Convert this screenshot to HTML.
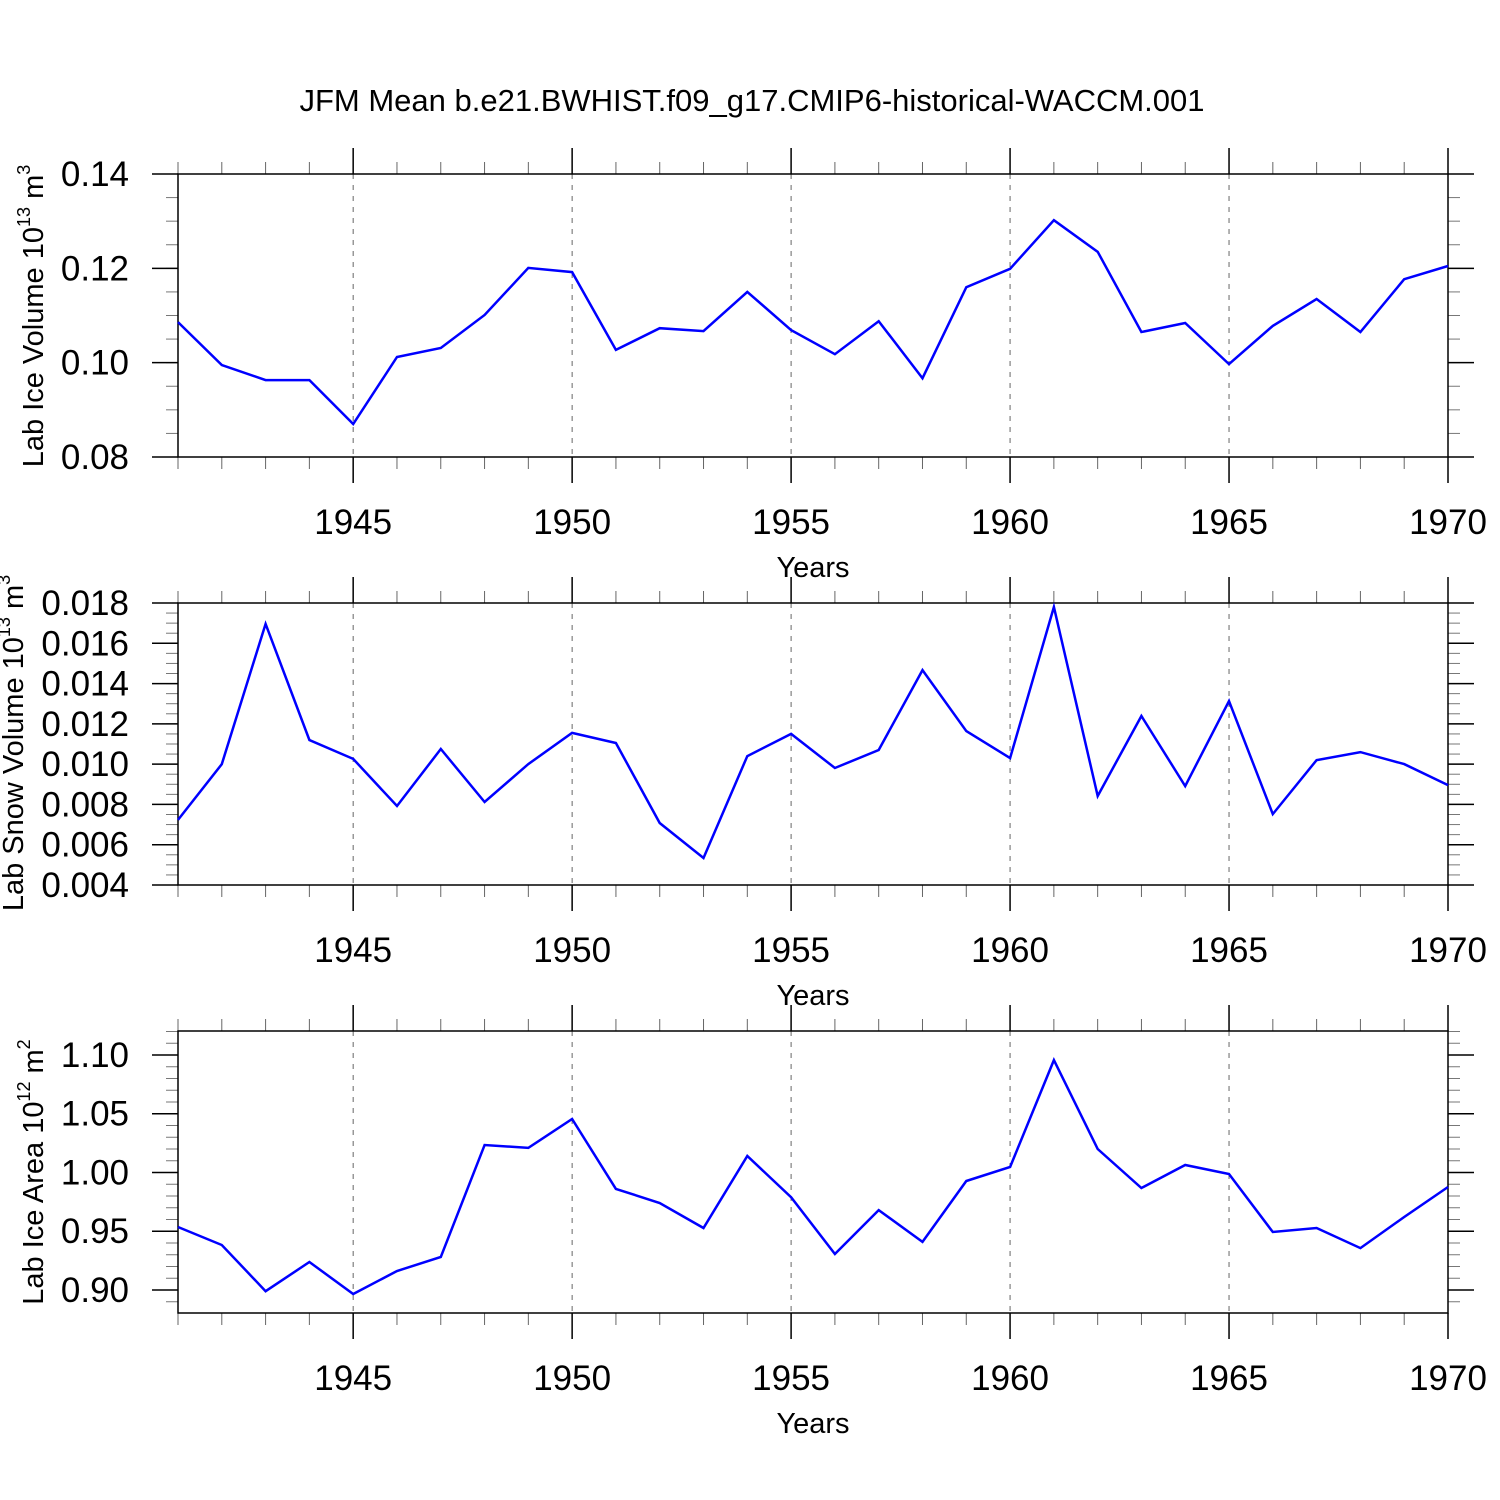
<!DOCTYPE html>
<html><head><meta charset="utf-8"><style>
body{margin:0;background:#fff}
svg{display:block;font-family:"Liberation Sans",Arial,sans-serif}
</style></head><body>
<svg id="c" width="1500" height="1500" viewBox="0 0 1500 1500">
<rect width="1500" height="1500" fill="#fff"/>
<text x="752" y="111" font-size="31" text-anchor="middle">JFM Mean b.e21.BWHIST.f09_g17.CMIP6-historical-WACCM.001</text>
</svg>
<script>
const years=[1941,1942,1943,1944,1945,1946,1947,1948,1949,1950,1951,1952,1953,1954,1955,1956,1957,1958,1959,1960,1961,1962,1963,1964,1965,1966,1967,1968,1969,1970];
const xTicks=[1945,1950,1955,1960,1965,1970];
const iceVol=[0.1086,0.0995,0.0963,0.0963,0.0870,0.1012,0.1031,0.1101,0.1201,0.1192,0.1027,0.1073,0.1067,0.1150,0.1069,0.1018,0.1088,0.0967,0.1160,0.1199,0.1302,0.1235,0.1065,0.1084,0.0997,0.1078,0.1135,0.1065,0.1177,0.1205];
const snowVol=[0.00723,0.0100,0.01696,0.0112,0.01026,0.00792,0.01075,0.00812,0.0100,0.01155,0.01105,0.00708,0.00534,0.0104,0.0115,0.00981,0.0107,0.01467,0.01164,0.0103,0.0178,0.00842,0.01239,0.00891,0.01313,0.00752,0.0102,0.0106,0.0100,0.00896];
const iceArea=[0.9536,0.9383,0.899,0.9238,0.8966,0.9162,0.9281,1.0234,1.0209,1.0455,0.986,0.974,0.9528,1.014,0.979,0.9306,0.968,0.9409,0.9928,1.0047,1.0957,1.02,0.9868,1.0064,0.9987,0.9494,0.9528,0.9357,0.9621,0.9877];
const ticks1=["0.08","0.10","0.12","0.14"];
const ticks2=["0.004","0.006","0.008","0.010","0.012","0.014","0.016","0.018"];
const ticks3=["0.90","0.95","1.00","1.05","1.10"];

const svg=document.getElementById('c');
const NS='http://www.w3.org/2000/svg';
function mk(tag,attrs,parent){const e=document.createElementNS(NS,tag);for(const k in attrs)e.setAttribute(k,attrs[k]);(parent||svg).appendChild(e);return e;}
const X0=178,X1=1448;
function xs(yr){return X0+(yr-1941)/(1970-1941)*(X1-X0);}

const panels=[
 {name:'ice-volume',top:174,bot:457,min:0.08,max:0.14,data:iceVol,ticks:ticks1,minor:0.005,title:['Lab Ice Volume 10','13',' m','3'],tcy:316,tx:43},
 {name:'snow-volume',top:603,bot:885,min:0.004,max:0.018,data:snowVol,ticks:ticks2,minor:0.0005,title:['Lab Snow Volume 10','13',' m','3'],tcy:743,tx:23},
 {name:'ice-area',top:1031,bot:1313,min:0.880425,max:1.120425,data:iceArea,ticks:ticks3,minor:0.01,title:['Lab Ice Area 10','12',' m','2'],tcy:1172,tx:43}
];
panels.forEach(p=>{
 const g=mk('g',{});
 
 
 const ys=v=>p.bot-(v-p.min)/(p.max-p.min)*(p.bot-p.top);
 xTicks.forEach(t=>{if(t<1970){const l=mk('line',{x1:xs(t),x2:xs(t),y1:p.top,y2:p.bot,stroke:'#666','stroke-width':1,'stroke-dasharray':'5,6'},g);}});
 years.forEach(yr=>{
  const maj=xTicks.includes(yr), L=maj?26:12, x=xs(yr);
  mk('line',{x1:x,x2:x,y1:p.top-L,y2:p.top,stroke:maj?'#000':'#666','stroke-width':maj?1.5:1},g);
  mk('line',{x1:x,x2:x,y1:p.bot,y2:p.bot+L,stroke:maj?'#000':'#666','stroke-width':maj?1.5:1},g);
 });
 xTicks.forEach(t=>{const tx=mk('text',{x:xs(t),y:p.bot+77,'font-size':35,'text-anchor':'middle'},g);tx.textContent=t;});
 const xt=mk('text',{x:813,y:p.bot+120,'font-size':29,'text-anchor':'middle'},g);xt.textContent='Years';
 
 const start=Math.ceil(p.min/p.minor-1e-6);
 for(let k=start;k*p.minor<=p.max+1e-9;k++){
  const v=k*p.minor,y=ys(v);
  mk('line',{x1:X0-12,x2:X0,y1:y,y2:y,stroke:'#777','stroke-width':1},g);
  mk('line',{x1:X1,x2:X1+12,y1:y,y2:y,stroke:'#777','stroke-width':1},g);
 }
 p.ticks.forEach(s=>{
  const y=ys(parseFloat(s));
  mk('line',{x1:X0-26,x2:X0,y1:y,y2:y,stroke:'#000','stroke-width':1.5},g);
  mk('line',{x1:X1,x2:X1+26,y1:y,y2:y,stroke:'#000','stroke-width':1.5},g);
  const t=mk('text',{x:129,y:y+12,'font-size':35,'text-anchor':'end'},g);t.textContent=s;
  
 });
 const fr=mk('rect',{x:X0,y:p.top,width:X1-X0,height:p.bot-p.top,fill:'none',stroke:'#000','stroke-width':1.5},g);
 
 const yt=mk('text',{transform:`translate(${p.tx},${p.tcy}) rotate(-90)`,'font-size':29,'text-anchor':'middle'},g);
 
 const a=mk('tspan',{},yt);a.textContent=p.title[0];
 const b=mk('tspan',{'font-size':18,dy:-13},yt);b.textContent=p.title[1];
 const c=mk('tspan',{dy:13},yt);c.textContent=p.title[2];
 const d=mk('tspan',{'font-size':18,dy:-13},yt);d.textContent=p.title[3];
 const pts=p.data.map((v,i)=>xs(years[i]).toFixed(1)+','+ys(v).toFixed(1)).join(' ');
 const pl=mk('polyline',{points:pts,fill:'none',stroke:'#0000ff','stroke-width':2.5,'stroke-linejoin':'miter'},g);
 
});
</script>
</body></html>
